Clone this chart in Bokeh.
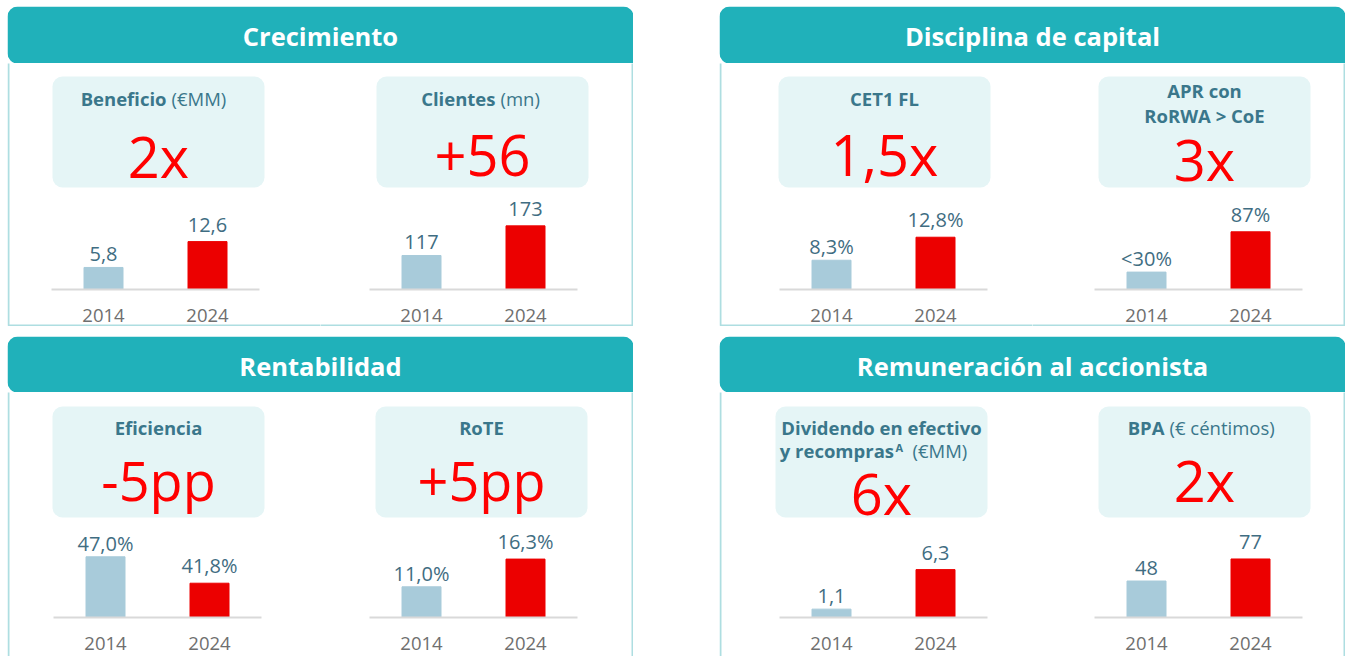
from bokeh.plotting import figure
from bokeh.models import BoxAnnotation, Label, LabelSet, ColumnDataSource, Range1d, Spacer, FixedTicker
from bokeh.layouts import row, column
from bokeh.embed import file_html
from bokeh.resources import INLINE
from bokeh.core.properties import value

# ---------------- data ----------------
years = ["2014", "2024"]
panel_titles = ["Crecimiento", "Disciplina de capital", "Rentabilidad", "Remuneración al accionista"]

beneficio = [5.8, 12.6]
beneficio_labels = ["5,8", "12,6"]
clientes = [117, 173]
clientes_labels = ["117", "173"]
cet1 = [8.3, 12.8]
cet1_labels = ["8,3%", "12,8%"]
apr = [30, 87]
apr_labels = ["<30%", "87%"]
eficiencia = [47.0, 41.8]
eficiencia_labels = ["47,0%", "41,8%"]
rote = [11.0, 16.3]
rote_labels = ["11,0%", "16,3%"]
dividendo = [1.1, 6.3]
dividendo_labels = ["1,1", "6,3"]
bpa = [48, 77]
bpa_labels = ["48", "77"]

headlines = ["2x", "+56", "1,5x", "3x", "-5pp", "+5pp", "6x", "2x"]

# title lines: (text, kind) kind: b=bold, r=regular, sup=superscript
metric_titles = [
    [[("Beneficio", "b"), ("(€MM)", "r")]],
    [[("Clientes", "b"), ("(mn)", "r")]],
    [[("CET1 FL", "b")]],
    [[("APR con", "b")], [("RoRWA > CoE", "b")]],
    [[("Eficiencia", "b")]],
    [[("RoTE", "b")]],
    [[("Dividendo en efectivo", "b")], [("y recompras", "b"), ("A", "sup"), ("(€MM)", "r")]],
    [[("BPA", "b"), ("(€ céntimos)", "r")]],
]
series = [beneficio, clientes, cet1, apr, eficiencia, rote, dividendo, bpa]
series_labels = [beneficio_labels, clientes_labels, cet1_labels, apr_labels,
                 eficiencia_labels, rote_labels, dividendo_labels, bpa_labels]

# ---------------- styles / layout ----------------
FONT = "Open Sans"
TEAL = "#20b1ba"
BOX = "#e5f5f6"
BORDER = "#aedee1"
TITLE_C = "#3a778b"
VALUE_C = "#3f6d82"
YEAR_C = "#6f6f6f"
AXIS_C = "#d9d9d9"
BIG_C = "#ff0000"
BAR_COLORS = ["#a8cbda", "#ec0000"]
LABEL_GAPS = [6, 10]   # px between bar top and its value label

MID = 0.39          # label anchor correction (fraction of font size)
PANEL_W = 626
HALF_W = 313
FRAME_W = 208       # width of the bar-chart baseline
BOX_W = 212
BOX_H = 111
ROWS = [dict(height=263, top=13, below=37, bottom_border=True, header=57),
        dict(height=264, top=14, below=39, bottom_border=False, header=56)]
TITLE_FS = 18.5

# per chart: axis offset, box offset, axis start value, px per unit, text baselines
chart_style = [
    dict(fl=44, bl=45, v0=0.0, k=3.8, dys=[29], parts=[[8, 13]], big_dy=101, big=56),
    dict(fl=49, bl=56, v0=52.7, k=0.529, dys=[29], parts=[[13, 18]], big_dy=101, big=56),
    dict(fl=60, bl=59, v0=2.57, k=5.11, dys=[29], parts=[[0]], big_dy=99, big=56),
    dict(fl=62, bl=66, v0=5.4, k=0.707, dys=[21, 46], parts=[[0], [0]], big_dy=104, big=56),
    dict(fl=46, bl=45, v0=35.05, k=5.08, dys=[28], parts=[[0]], big_dy=95, big=54),
    dict(fl=49, bl=55, v0=5.13, k=5.23, dys=[28], parts=[[0]], big_dy=95, big=54),
    dict(fl=60, bl=56, v0=0.0, k=7.6, dys=[28, 51], parts=[[0], [12.5, 14, 31]], big_dy=108, big=56),
    dict(fl=62, bl=66, v0=0.0, k=0.76, dys=[28], parts=[[-40, -35]], big_dy=95, big=56),
]


def sbox(**kw):
    return BoxAnnotation(left_units="screen", right_units="screen",
                         top_units="screen", bottom_units="screen", **kw)


def text_label(x, y_from_bottom, text, size, color, style="bold", align="center"):
    return Label(x=x, y=y_from_bottom + MID * size, x_units="screen", y_units="screen",
                 text=text, text_align=align, text_baseline="alphabetic",
                 text_font=FONT, text_font_style=style, text_font_size="%gpx" % size,
                 text_color=color)


def make_header(title, h):
    p = figure(width=PANEL_W, height=h, x_range=Range1d(0, 1), y_range=Range1d(0, 1),
               toolbar_location=None, output_backend="svg", min_border=0,
               x_axis_location=None, y_axis_location=None)
    p.outline_line_color = None
    p.grid.visible = False
    p.background_fill_color = "white"
    p.border_fill_color = "white"
    p.add_layout(sbox(left=0, right=PANEL_W, bottom=0, top=h, fill_color=TEAL, fill_alpha=1,
                      line_color=None, border_radius=(10, 10, 0, 10)))
    p.add_layout(text_label(PANEL_W / 2, h - 39, title, 25.5, "white"))
    return p


def make_half(i, side, cfg):
    st = chart_style[i]
    H, top_pad, below = cfg["height"], cfg["top"], cfg["below"]
    above = H - below
    v0, k, fl = st["v0"], st["k"], st["fl"]
    unit = FRAME_W / len(years)
    xs = list(range(len(years)))
    x0 = -(fl + unit / 2) / unit
    p = figure(width=HALF_W, height=H,
               x_range=Range1d(x0, x0 + HALF_W / unit),
               y_range=Range1d(v0 - below / k, v0 + above / k),
               toolbar_location=None, output_backend="svg", min_border=0,
               y_axis_location=None)
    p.outline_line_color = None
    p.grid.visible = False
    p.background_fill_color = "white"
    p.border_fill_color = "white"

    # panel border
    if side == 0:
        l, r = 1, HALF_W + 20
    else:
        l, r = -20, HALF_W - 1
    b = 1 if cfg["bottom_border"] else -20
    p.add_layout(sbox(left=l, right=r, bottom=b, top=H + 20, fill_alpha=0,
                      line_color=BORDER, line_alpha=1, line_width=2))

    # headline box
    bx = st["bl"]
    p.add_layout(sbox(left=bx, right=bx + BOX_W, top=H - top_pad, bottom=H - top_pad - BOX_H,
                      fill_color=BOX, fill_alpha=1, line_color=None, border_radius=10))
    cx = bx + BOX_W / 2
    for line, dy, xo in zip(metric_titles[i], st["dys"], st["parts"]):
        yb = H - top_pad - dy
        if len(line) == 1:
            p.add_layout(text_label(cx, yb, line[0][0], TITLE_FS, TITLE_C))
        else:
            for j, (txt, kind) in enumerate(line):
                if kind == "b":
                    p.add_layout(text_label(cx + xo[j], yb, txt, TITLE_FS, TITLE_C,
                                            align="right" if j == 0 else "left"))
                elif kind == "r":
                    p.add_layout(text_label(cx + xo[j], yb, txt, TITLE_FS, TITLE_C,
                                            style="normal", align="left"))
                else:
                    p.add_layout(text_label(cx + xo[j], yb + 6, txt, 11, TITLE_C, align="left"))
    p.add_layout(text_label(cx, H - top_pad - st["big_dy"], headlines[i], st["big"], BIG_C,
                            style="normal"))

    # bars
    src = ColumnDataSource(dict(x=xs, top=series[i], label=series_labels[i], color=BAR_COLORS,
                                gap=LABEL_GAPS))
    p.vbar(x="x", top="top", bottom=v0, width=0.375, color="color", source=src)
    p.add_layout(LabelSet(x="x", y="top", text="label", source=src, y_offset="gap",
                          text_align="center", text_baseline="alphabetic",
                          text_font=value(FONT), text_font_size="20px", text_color=VALUE_C))

    ax = p.xaxis[0]
    ax.ticker = FixedTicker(ticks=xs)
    ax.major_label_overrides = {x: y for x, y in zip(xs, years)}
    ax.bounds = (-0.5, len(years) - 0.5)
    ax.fixed_location = v0
    ax.axis_line_color = AXIS_C
    ax.axis_line_width = 2
    ax.major_tick_line_color = None
    ax.minor_tick_line_color = None
    ax.major_tick_out = 0
    ax.major_tick_in = 0
    ax.major_label_standoff = 19
    ax.major_label_text_font = FONT
    ax.major_label_text_font_size = "18.5px"
    ax.major_label_text_color = YEAR_C
    return p


def make_panel(pi, cfg):
    header = make_header(panel_titles[pi], cfg["header"])
    halves = [make_half(2 * pi + s, s, cfg) for s in (0, 1)]
    return column(header, row(*halves))


top = row(Spacer(width=7, height=10), make_panel(0, ROWS[0]), Spacer(width=86, height=10),
          make_panel(1, ROWS[0]))
bottom = row(Spacer(width=7, height=10), make_panel(2, ROWS[1]), Spacer(width=86, height=10),
             make_panel(3, ROWS[1]))
layout = column(Spacer(width=10, height=6), top, Spacer(width=10, height=10), bottom)

open("out.html", "w").write(file_html(layout, INLINE))
